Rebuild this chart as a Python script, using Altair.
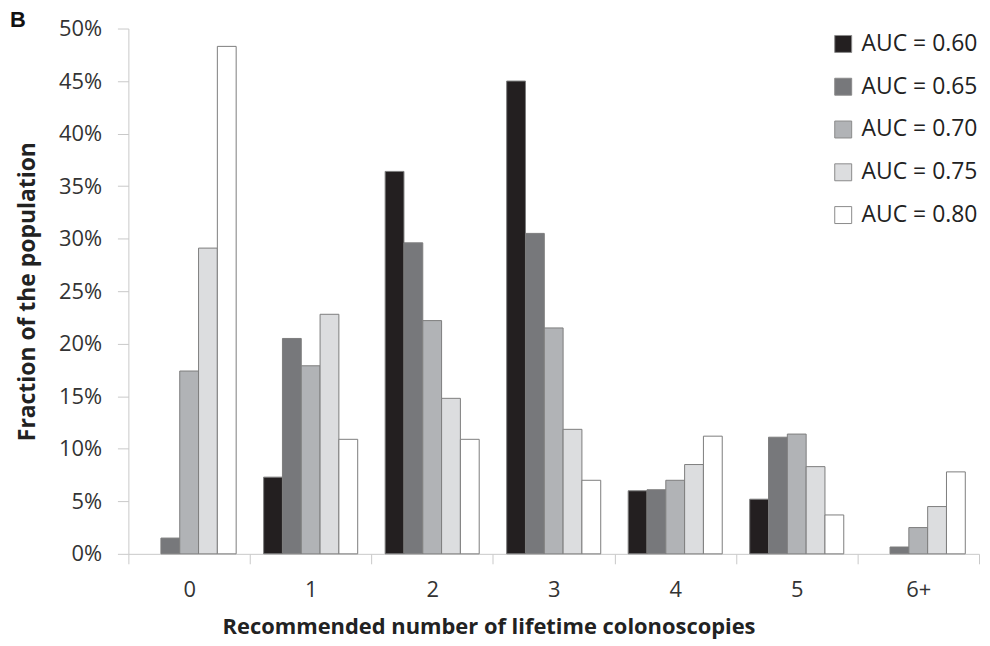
import altair as alt
import pandas as pd

categories = ["0", "1", "2", "3", "4", "5", "6+"]
series = ["AUC = 0.60", "AUC = 0.65", "AUC = 0.70", "AUC = 0.75", "AUC = 0.80"]
colors = ["#231f20", "#77787b", "#b1b3b6", "#dcdddf", "#ffffff"]

# percent of population per recommended number of colonoscopies
auc_060 = [0.0, 7.3, 36.4, 45.0, 6.0, 5.2, 0.0]
auc_065 = [1.5, 20.5, 29.6, 30.5, 6.1, 11.1, 0.65]
auc_070 = [17.4, 17.9, 22.2, 21.5, 7.0, 11.4, 2.5]
auc_075 = [29.1, 22.8, 14.8, 11.85, 8.5, 8.3, 4.5]
auc_080 = [48.3, 10.9, 10.9, 7.0, 11.2, 3.7, 7.8]

y_ticks = [0, 0.05, 0.10, 0.15, 0.20, 0.25, 0.30, 0.35, 0.40, 0.45, 0.50]

rows = []
for s, vals in zip(series, [auc_060, auc_065, auc_070, auc_075, auc_080]):
    for c, v in zip(categories, vals):
        if v > 0:
            rows.append({"n": c, "auc": s, "frac": v / 100.0})
df = pd.DataFrame(rows)

AXIS_COLOR = "#c9c9c9"
TEXT_COLOR = "#333333"
FONT = "Open Sans"

bars = alt.Chart(df).mark_bar(stroke="#7d7d7d", strokeWidth=1).encode(
    x=alt.X(
        "n:N",
        sort=categories,
        scale=alt.Scale(domain=categories, paddingInner=0, paddingOuter=0),
        axis=alt.Axis(
            title="Recommended number of lifetime colonoscopies",
            labelAngle=0,
            tickBand="extent",
            tickSize=10,
            tickColor=AXIS_COLOR,
            domainColor=AXIS_COLOR,
            labelPadding=16,
            titlePadding=16,
            titleFontSize=22,
            titleX=362,
            titleAlign="center",
        ),
    ),
    xOffset=alt.XOffset(
        "auc:N",
        sort=series,
        scale=alt.Scale(domain=series, paddingInner=0, paddingOuter=0.73),
    ),
    y=alt.Y(
        "frac:Q",
        scale=alt.Scale(domain=[0, 0.5]),
        axis=alt.Axis(
            title="Fraction of the population",
            format=".0%",
            values=y_ticks,
            grid=False,
            tickSize=11,
            tickColor=AXIS_COLOR,
            domainColor=AXIS_COLOR,
            labelPadding=16,
            titlePadding=19,
            titleFontSize=23,
        ),
    ),
    fill=alt.Fill(
        "auc:N",
        sort=series,
        scale=alt.Scale(domain=series, range=colors),
        legend=alt.Legend(
            title=None,
            orient="none",
            legendX=707,
            legendY=4,
            symbolType="square",
            symbolSize=290,
            symbolStrokeColor="#8a8a8a",
            symbolStrokeWidth=1,
            labelFontSize=23,
            labelFont=FONT,
            labelColor="#222222",
            labelOffset=7,
            rowPadding=19,
        ),
    ),
)

label_b = alt.Chart(pd.DataFrame({"t": ["B"]})).mark_text(
    font="Liberation Sans", fontWeight="bold", fontSize=22, align="left", baseline="alphabetic", color="#111111"
).encode(text="t:N", x=alt.value(-119), y=alt.value(-2))

chart = alt.layer(bars, label_b).properties(
    width=855,
    height=528,
    autosize=alt.AutoSizeParams(type="none"),
    padding={"left": 121, "top": 19, "right": 3, "bottom": 90},
).configure_view(stroke=None).configure_axis(
    labelFont=FONT,
    labelFontSize=22,
    labelColor=TEXT_COLOR,
    titleFont=FONT,
    titleFontWeight="bold",
    titleColor="#222222",
)

chart.save("out.html", embed_options={"renderer": "svg", "actions": False})
